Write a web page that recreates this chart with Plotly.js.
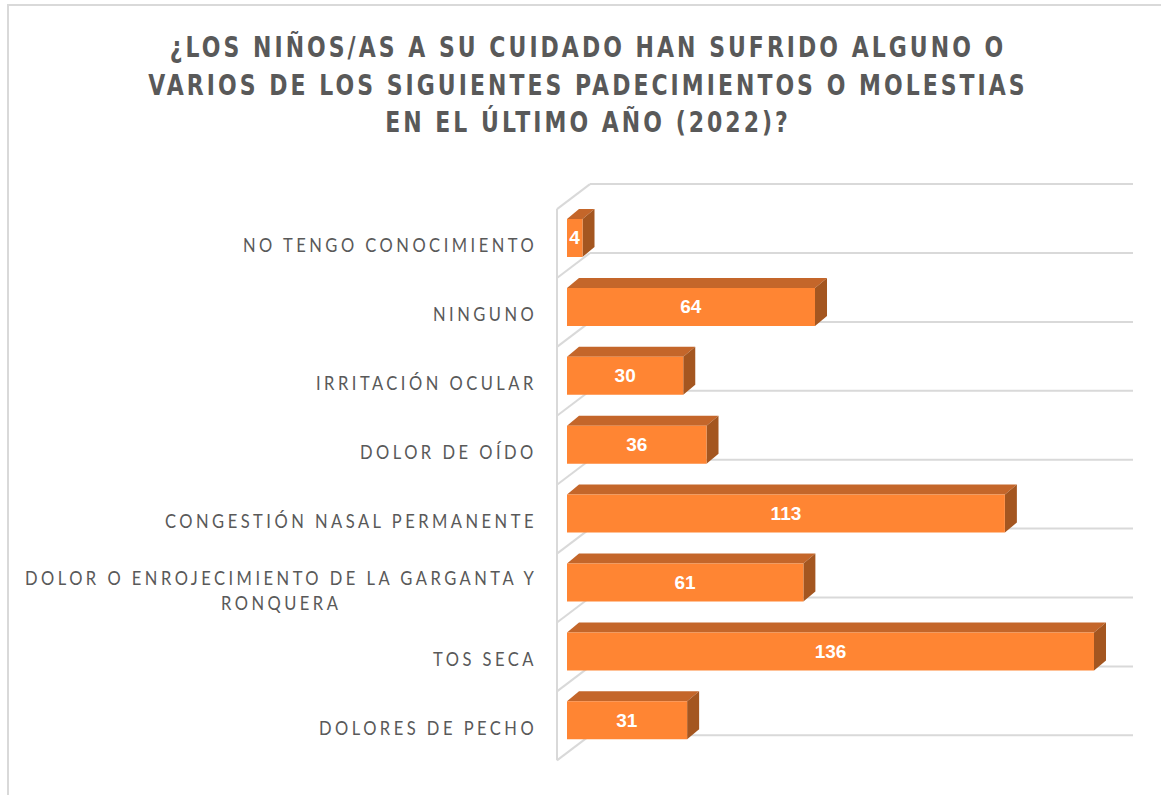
<!DOCTYPE html>
<html>
<head>
<meta charset="utf-8">
<script src="https://cdn.plot.ly/plotly-3.0.1.min.js"></script>
<style>
  html, body { margin: 0; padding: 0; background: #fff; }
  #wrap { position: relative; width: 1161px; height: 795px; overflow: hidden; }
  #chart { width: 1161px; height: 795px; }
  #frame { position: absolute; left: 7px; top: 4px; right: -10px; bottom: -10px;
           border-left: 2px solid #d9d9d9; border-top: 2px solid #d9d9d9; pointer-events: none; }
  .gtitle { letter-spacing: 4px; transform-box: fill-box; transform-origin: center; transform: scaleX(0.758); }
  .annotation-text { letter-spacing: 4px; transform-box: fill-box; transform-origin: right center; transform: scaleX(0.87); }
</style>
</head>
<body>
<div id="wrap"><div id="chart"></div><div id="frame"></div></div>
<script>
// ---- data ----
const categories = [
  'NO TENGO CONOCIMIENTO',
  'NINGUNO',
  'IRRITACIÓN OCULAR',
  'DOLOR DE OÍDO',
  'CONGESTIÓN NASAL PERMANENTE',
  'DOLOR O ENROJECIMIENTO DE LA GARGANTA Y<br>RONQUERA',
  'TOS SECA',
  'DOLORES DE PECHO'
];
const values = [4, 64, 30, 36, 113, 61, 136, 31];
const titleText = '¿LOS NIÑOS/AS A SU CUIDADO HAN SUFRIDO ALGUNO O<br>VARIOS DE LOS SIGUIENTES PADECIMIENTOS O MOLESTIAS<br>EN EL ÚLTIMO AÑO (2022)?';

// ---- styling / geometry ----
const FRONT = '#FF8533', TOP = '#C4662A', SIDE = '#A45620', GRID = '#D9D9D9';
const W = 1161, H = 795;
const M = {l: 540, r: 21, t: 150, b: 15};
const plotW = W - M.l - M.r, plotH = H - M.t - M.b;
const xRange = [-6.97, 147.87];
const yRange = [7.866, -1.277];
const pxX = plotW / (xRange[1] - xRange[0]);
const pxY = plotH / (yRange[0] - yRange[1]);
const barW = 38 / pxY;
const dx = 12 / pxX, dy = 10 / pxY;

const idx = categories.map((_, i) => i);

const shapes = [];
// floor / wall lines
const backOff = 15 / pxY, wallDY = 25 / pxY;
const wallFrontX = (557 - M.l) / pxX + xRange[0];
const wallBackX = (590 - M.l) / pxX + xRange[0];
const gridEnd = (1133 - M.l) / pxX + xRange[0];
const line = {color: GRID, width: 2};
for (let k = -1; k < categories.length; k++) {
  const yb = k + backOff;
  shapes.push({type: 'line', layer: 'below', xref: 'x', yref: 'y', x0: wallBackX, x1: gridEnd, y0: yb, y1: yb, line});
  shapes.push({type: 'line', layer: 'below', xref: 'x', yref: 'y', x0: wallFrontX, x1: wallBackX, y0: yb + wallDY, y1: yb, line});
}
shapes.push({type: 'line', layer: 'below', xref: 'x', yref: 'y', x0: wallFrontX, x1: wallFrontX,
  y0: -1 + backOff + wallDY, y1: categories.length - 1 + backOff + wallDY, line});

// 3D faces of the bars
idx.forEach(i => {
  const v = values[i];
  const yt = i - barW / 2, yb = i + barW / 2;
  shapes.push({type: 'path', layer: 'below', xref: 'x', yref: 'y', fillcolor: TOP, line: {width: 0},
    path: `M0,${yt} L${v},${yt} L${v + dx},${yt - dy} L${dx},${yt - dy} Z`});
  shapes.push({type: 'path', layer: 'below', xref: 'x', yref: 'y', fillcolor: SIDE, line: {width: 0},
    path: `M${v},${yt} L${v + dx},${yt - dy} L${v + dx},${yb - dy} L${v},${yb} Z`});
});

// category labels (paper x, data y)
const labelX = (539 - M.l) / plotW;
const annotations = idx.map(i => ({
  xref: 'paper', yref: 'y', x: labelX, y: i + 7 / pxY,
  xanchor: 'right', yanchor: 'middle', align: 'center', showarrow: false,
  text: categories[i],
  font: {family: 'Lato, "Open Sans", sans-serif', size: 19, color: '#595959'}
}));

const trace = {
  type: 'bar', orientation: 'h',
  x: values, y: idx, width: barW,
  marker: {color: FRONT, line: {width: 0}},
  text: values.map(String),
  textposition: 'inside', insidetextanchor: 'middle', constraintext: 'none',
  textfont: {family: '"Liberation Sans", Arial, sans-serif', size: 19, color: '#FFFFFF', weight: 'bold'},
  hoverinfo: 'skip'
};

const layout = {
  width: W, height: H, autosize: false,
  margin: M,
  paper_bgcolor: '#FFFFFF', plot_bgcolor: 'rgba(0,0,0,0)',
  showlegend: false,
  title: {
    text: titleText,
    x: 588 / W, xref: 'container', xanchor: 'center',
    y: 1 - 57 / H, yref: 'container', yanchor: 'top',
    font: {family: '"DejaVu Sans", sans-serif', size: 29, color: '#595959', weight: 'bold'}
  },
  xaxis: {range: xRange, visible: false, fixedrange: true},
  yaxis: {range: yRange, visible: false, fixedrange: true},
  shapes, annotations
};

Plotly.newPlot('chart', [trace], layout, {displayModeBar: false, staticPlot: true});
</script>
</body>
</html>
